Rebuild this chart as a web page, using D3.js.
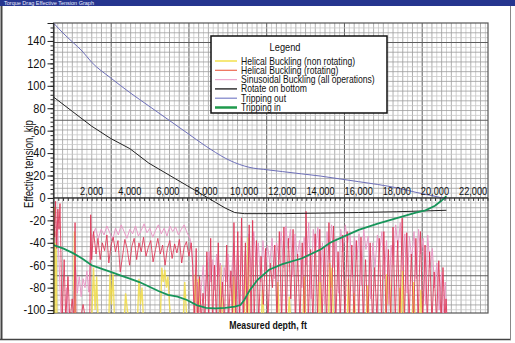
<!DOCTYPE html>
<html>
<head>
<meta charset="utf-8">
<script src="https://cdn.jsdelivr.net/npm/d3@7/dist/d3.min.js"></script>
<style>
  html, body { margin: 0; padding: 0; background: #fff; }
  svg { display: block; font-family: "Liberation Sans", Arial, Helvetica, sans-serif; }
</style>
</head>
<body>
<div id="chart"></div>
<script>
// axis ticks
const depthTicks = [2000, 4000, 6000, 8000, 10000, 12000, 14000, 16000, 18000, 20000, 22000];
const tensionTicks = [-100, -80, -60, -40, -20, 0, 20, 40, 60, 80, 100, 120, 140];

// tripping out (pick-up) tension
const outDepth = [0, 500, 1000, 1500, 2000, 3000, 4000, 5000, 6000, 7000, 8000, 8500, 9000, 9500, 10000, 10500, 11000, 12000, 13000, 14000, 15000, 16000, 17000, 18000, 19000, 20000, 20600];
const outTension = [156, 147, 139, 131, 121, 107, 94, 82, 70, 58, 46, 40.5, 35.5, 31.5, 28.5, 26.5, 25.5, 23.5, 21.5, 19.5, 17, 14.5, 12, 9, 5, 1.5, -1];

// rotate on bottom
const rotDepth = [0, 1000, 2000, 3000, 4000, 5000, 6000, 7000, 8000, 8500, 9000, 9500, 10000, 11000, 12000, 14000, 16000, 18000, 20000, 20600];
const rotTension = [90, 77, 64, 53, 44, 31, 21, 11, 1, -4, -9, -13, -14, -14, -14, -13.5, -13, -12.3, -11.3, -11];

// tripping in (slack-off)
const inDepth = [0, 500, 1000, 1500, 2000, 2500, 3000, 3500, 4000, 4500, 5000, 5500, 6000, 6500, 7000, 7500, 8000, 8500, 9000, 9500, 9800, 10000, 10300, 10700, 11300, 12000, 13000, 14000, 14500, 15000, 16000, 17000, 18000, 19000, 19500, 20000, 20300, 20600];
const inTension = [-42, -45, -49, -54, -60, -63, -66, -69, -72, -75, -79, -83, -86.5, -88, -91, -95.5, -98, -98.5, -98, -97, -95.5, -91, -82, -73, -64, -59, -54, -46, -40, -36, -28.5, -23, -18, -13, -11, -7, -3, 1.5];

// helical buckling limit, rotating  [depth ft, kip]
const helicalRot = [
  [0,-8],[60,-35],[110,-3],[170,-45],[230,-10],[290,-28],[340,-5],[400,-60],[450,-110],[560,-55],[640,-110],[760,-70],[860,-110],[980,-90],[1080,-110],[1130,-22],[1180,-110],
  [1400,-110],[1550,-95],[1700,-110],[1900,-110],[1950,-15],[2000,-55],
  [2100,-30],[2230,-50],[2330,-36],[2450,-55],[2560,-40],[2680,-47],[2800,-33],[2900,-58],[3020,-42],[3130,-35],[3250,-48],[3380,-38],[3500,-66],[3620,-52],[3740,-37],[3860,-45],[3990,-60],[4110,-43],[4230,-36],[4360,-55],[4480,-40],[4600,-48],[4720,-35],[4850,-52],[4970,-44],[5100,-38],[5220,-57],[5350,-46],[5470,-36],[5600,-50],[5720,-42],[5850,-60],[5970,-45],[6100,-38],[6220,-54],[6350,-41],[6470,-49],[6600,-37],[6720,-58],[6850,-44],[6970,-39],[7100,-52],[7220,-40],
  [7300,-60],[7380,-110],[7480,-45],[7560,-110],[7660,-70],[7740,-110],[7840,-85],[7940,-110],
  [8040,-48],[8140,-110],[8240,-36],[8340,-110],[8440,-60],[8540,-110],[8640,-40],[8740,-110],[8860,-75],[8960,-110],[9080,-42],[9180,-110],[9300,-65],[9380,-110],[9460,-22],[9560,-110],[9660,-30],[9760,-110],[9860,-18],[9960,-110],[10060,-40],[10160,-110],[10260,-24],[10360,-110],[10440,-20],
  [10520,-110],[10640,-38],[10760,-110],[10880,-52],[11000,-95],[11120,-45],[11240,-110],[11360,-58],[11480,-80],[11600,-42],[11720,-110],[11840,-30],[11960,-110],[12080,-26],[12200,-110],[12320,-36],[12440,-90],[12560,-28],[12680,-110],[12800,-50],[12920,-110],[13040,-40],[13160,-110],[13240,-12],[13360,-110],[13480,-46],[13600,-110],[13720,-32],[13840,-105],[13960,-28],[14080,-110],[14200,-44],[14320,-110],[14440,-22],[14560,-110],[14680,-25],[14800,-110],[14920,-48],[15040,-110],[15160,-33],[15280,-110],[15400,-30],[15520,-110],[15640,-42],[15760,-110],[15880,-38],[16000,-110],[16120,-35],[16240,-110],[16360,-55],[16480,-110],[16600,-40],[16720,-110],[16840,-62],[16960,-110],[17080,-36],[17200,-110],[17320,-30],[17440,-110],[17560,-46],[17680,-110],[17800,-26],[17920,-110],[18040,-38],[18160,-110],[18280,-18],[18400,-110],[18520,-31],[18640,-110],[18760,-50],[18880,-110],[19000,-36],[19120,-110],[19240,-30],[19360,-110],[19480,-42],[19600,-110],[19720,-48],[19840,-110],[19960,-66],[20080,-110],[20200,-56],[20320,-110],[20420,-62],[20520,-110],[20580,-90],[20640,-110]
];

// sinusoidal buckling limit, all operations
const sinusoidal = [
  [0,-15],[100,-40],[200,-20],[300,-60],[400,-110],[600,-110],[700,-80],[800,-110],[1000,-110],[1150,-60],[1250,-85],[1350,-70],[1450,-88],[1550,-72],[1650,-80],[1750,-65],[1850,-84],[1950,-40],
  [2050,-34],[2200,-27],[2350,-36],[2500,-28],[2650,-33],[2800,-25],[2950,-31],[3100,-38],[3250,-27],[3400,-33],[3550,-24],[3700,-30],[3850,-36],[4000,-28],[4150,-32],[4300,-25],[4450,-34],[4600,-29],[4750,-23],[4900,-31],[5050,-27],[5200,-35],[5350,-29],[5500,-24],[5650,-32],[5800,-27],[5950,-34],[6100,-25],[6250,-30],[6400,-26],[6550,-33],[6700,-28],[6850,-24],[7000,-31],[7150,-36],[7250,-45],
  [7350,-90],[7450,-110],[7550,-75],[7650,-110],[7750,-80],[7850,-60],[7950,-90],
  [8050,-62],[8150,-48],[8250,-75],[8350,-55],[8450,-82],[8550,-50],[8650,-70],[8750,-58],[8850,-88],[8950,-62],[9050,-75],[9150,-50],[9250,-80],[9350,-65],[9450,-40],[9550,-90],[9650,-45],[9750,-110],[9850,-35],[9950,-110],[10050,-48],[10150,-95],[10250,-32],
  [10380,-70],[10500,-30],[10620,-60],[10740,-40],[10860,-75],[10980,-38],[11100,-65],[11220,-42],[11340,-58],[11460,-36],[11580,-72],[11700,-40],[11820,-55],[11940,-30],[12060,-62],[12180,-25],[12300,-45],[12420,-28],[12540,-70],[12660,-32],[12780,-52],[12900,-38],[13020,-80],[13140,-35],[13260,-60],[13380,-22],[13500,-90],[13620,-28],[13740,-48],[13860,-26],[13980,-75],[14100,-40],[14220,-95],[14340,-30],[14460,-55],[14580,-24],[14700,-62],[14820,-36],[14940,-85],[15060,-28],[15180,-48],[15300,-24],[15420,-40],[15540,-30],[15660,-70],[15780,-35],[15900,-55],[16020,-32],[16140,-78],[16260,-28],[16380,-46],[16500,-34],[16620,-90],[16740,-40],[16860,-62],[16980,-33],[17100,-48],[17220,-30],[17340,-72],[17460,-38],[17580,-95],[17700,-42],[17820,-60],[17940,-24],[18060,-45],[18180,-22],[18300,-65],[18420,-32],[18540,-85],[18660,-34],[18780,-55],[18900,-30],[19020,-72],[19140,-28],[19260,-50],[19380,-36],[19500,-95],[19620,-33],[19740,-62],[19860,-45],[19980,-80],[20100,-58],[20220,-100],[20340,-66],[20440,-110],[20540,-75],[20620,-110]
];

// helical buckling limit, non rotating
const helicalNonRot = [
  [0,-110],[40,-8],[80,-110],[130,-30],[180,-110],[1050,-110],[1100,-30],[1150,-110],[2000,-110],[2100,-62],[2180,-100],[2260,-70],[2340,-110],[2900,-110],[2960,-68],[3040,-95],[3120,-66],[3200,-110],[3700,-110],[3780,-85],[3860,-98],[3950,-110],[4400,-110],[4480,-72],[4560,-95],[4640,-80],[4720,-110],[5600,-110],[5680,-62],[5760,-75],[5840,-64],[5920,-80],[6000,-70],[6080,-95],[6160,-110],[6800,-110],[6880,-75],[6960,-100],[7040,-110],[7380,-110],[7440,-68],[7520,-110],[7600,-72],[7680,-110],[8700,-110],[8780,-60],[8860,-110],[9400,-110],[9460,-70],[9540,-110],[10000,-110],[10060,-50],[10140,-110],[10200,-35],[10260,-110],[10900,-110],[10960,-82],[11040,-110],[11700,-110],[11760,-75],[11840,-110],[12300,-110],[12360,-88],[12440,-110],[13080,-110],[13140,-70],[13220,-110],[13900,-110],[13960,-60],[14040,-110],[14420,-110],[14480,-58],[14540,-80],[14600,-62],[14680,-110],[15400,-110],[15460,-72],[15540,-110],[15700,-110],[15760,-85],[15840,-110],[16400,-110],[16460,-78],[16540,-110],[17400,-110],[17460,-68],[17540,-95],[17620,-70],[17700,-110],[18100,-110],[18160,-80],[18240,-110],[18300,-60],[18380,-110],[18800,-110],[18880,-75],[18960,-110],[19200,-110],[19260,-82],[19340,-110],[20000,-110]
];

const legendItems = [
  { label: 'Helical Buckling  (non rotating)', color: '#f3e04c', width: 1.5 },
  { label: 'Helical Buckling (rotating)', color: '#ec6a52', width: 1.2 },
  { label: 'Sinusoidal Buckling (all operations)', color: '#eeaad0', width: 1.2 },
  { label: 'Rotate on bottom', color: '#333', width: 1.5 },
  { label: 'Tripping out', color: '#7a80c8', width: 1.2 },
  { label: 'Tripping in', color: '#1f9a4c', width: 2.5 },
];

const W = 515, H = 343;
const plot = { left: 53.5, top: 23, right: 488, bottom: 313 };

const x = d3.scaleLinear().domain([0, 22780]).range([plot.left, plot.right]);
const y = d3.scaleLinear().domain([-102.6, 156]).range([plot.bottom, plot.top]);

const svg = d3.select('#chart').append('svg')
    .attr('width', W)
    .attr('height', H);

// condensed text: squeeze horizontally about the anchor point
function narrowText(parent, px, py, str, size, sx, opts = {}) {
  return parent.append('text')
      .attr('transform', `translate(${px},${py})${opts.rotate ? ` rotate(${opts.rotate})` : ''} scale(${sx},1)`)
      .attr('text-anchor', opts.anchor || 'start')
      .attr('font-size', size)
      .attr('font-weight', opts.weight || 'normal')
      .attr('fill', opts.fill || '#111')
      .text(str);
}

// window chrome
svg.append('rect').attr('width', W).attr('height', H).attr('fill', '#fff');
svg.append('rect').attr('x', 0).attr('y', 0).attr('width', W).attr('height', 6).attr('fill', '#26358f');
svg.append('text')
    .attr('x', 4).attr('y', 4.8)
    .attr('font-size', 5.5)
    .attr('fill', '#e8ecff')
    .text('Torque Drag Effective Tension Graph');
svg.append('line').attr('x1', 1.5).attr('x2', 1.5).attr('y1', 6).attr('y2', 340).attr('stroke', '#444').attr('stroke-width', 2);
svg.append('line').attr('x1', 0).attr('x2', 511).attr('y1', 339.5).attr('y2', 339.5).attr('stroke', '#444').attr('stroke-width', 1.5);
svg.append('line').attr('x1', 510.5).attr('x2', 510.5).attr('y1', 6).attr('y2', 340).attr('stroke', '#888').attr('stroke-width', 1);

// graph-paper grid
const grid = svg.append('g').attr('class', 'grid');
const major = 77.75, fine = major / 16;
const gx0 = 111.2 - major;  // vertical rulings anchor
const gy0 = 198;            // horizontal rulings anchor (zero line)
const vLines = d3.range(-2 * 16, 8 * 16).map((i) => ({ p: gx0 + i * fine, k: ((i % 16) + 16) % 16 }))
    .filter((d) => d.p > plot.left + 0.5 && d.p < plot.right - 0.5);
const hLines = d3.range(-3 * 16, 3 * 16).map((i) => ({ p: gy0 + i * fine, k: ((i % 16) + 16) % 16 }))
    .filter((d) => d.p > plot.top + 0.5 && d.p < plot.bottom - 0.5);
const ruleColor = (k) => (k === 0 ? '#5e5e5e' : k % 2 === 0 ? '#9c9c9c' : '#c6c6c6');
const ruleWidth = (k) => (k === 0 ? 1 : 0.8);

grid.selectAll('.v').data(vLines).enter().append('line')
    .attr('x1', (d) => d.p).attr('x2', (d) => d.p)
    .attr('y1', plot.top).attr('y2', plot.bottom)
    .attr('stroke', (d) => ruleColor(d.k))
    .attr('stroke-width', (d) => ruleWidth(d.k));
grid.selectAll('.h').data(hLines).enter().append('line')
    .attr('y1', (d) => d.p).attr('y2', (d) => d.p)
    .attr('x1', plot.left).attr('x2', plot.right)
    .attr('stroke', (d) => ruleColor(d.k))
    .attr('stroke-width', (d) => ruleWidth(d.k));

svg.append('rect')
    .attr('x', plot.left).attr('y', plot.top)
    .attr('width', plot.right - plot.left).attr('height', plot.bottom - plot.top)
    .attr('fill', 'none').attr('stroke', '#555').attr('stroke-width', 1.2);

// curves
svg.append('clipPath').attr('id', 'plot-clip').append('rect')
    .attr('x', plot.left).attr('y', plot.top)
    .attr('width', plot.right - plot.left).attr('height', plot.bottom - plot.top);

const series = svg.append('g').attr('clip-path', 'url(#plot-clip)');
const line = d3.line().x((d) => x(d[0])).y((d) => y(d[1]));
const zip = (a, b) => a.map((v, i) => [v, b[i]]);

series.append('path').datum(helicalNonRot)
    .attr('d', line).attr('fill', 'none')
    .attr('stroke', '#f1dc48').attr('stroke-width', 1.4).attr('stroke-opacity', 0.85);
series.append('path').datum(sinusoidal)
    .attr('d', line).attr('fill', 'none')
    .attr('stroke', '#e89ac6').attr('stroke-width', 1);
series.append('path').datum(helicalRot)
    .attr('d', line).attr('fill', 'none')
    .attr('stroke', '#de3454').attr('stroke-width', 1).attr('stroke-opacity', 0.85);

series.append('path').datum(zip(rotDepth, rotTension))
    .attr('d', line).attr('fill', 'none')
    .attr('stroke', '#222').attr('stroke-width', 1);
series.append('path').datum(zip(outDepth, outTension))
    .attr('d', d3.line().curve(d3.curveMonotoneX).x((d) => x(d[0])).y((d) => y(d[1])))
    .attr('fill', 'none')
    .attr('stroke', '#6d6fb8').attr('stroke-width', 1);
series.append('path').datum(zip(inDepth, inTension))
    .attr('d', line).attr('fill', 'none')
    .attr('stroke', '#17955a').attr('stroke-width', 1.8);

// y axis
const yAxis = svg.append('g').attr('transform', `translate(${plot.left},0)`);
yAxis.call(d3.axisLeft(y).tickValues(d3.range(-100, 157, 4)).tickSize(3).tickFormat(''))
    .call((g) => g.select('.domain').remove());
yAxis.append('g')
    .call(d3.axisLeft(y).tickValues(tensionTicks).tickSize(6).tickFormat(''))
    .call((g) => g.select('.domain').attr('stroke', '#222'));
yAxis.selectAll('line').attr('stroke', '#222');
tensionTicks.forEach((t) => narrowText(yAxis, -8, y(t) + 4.4, String(t), 12.5, 0.88, { anchor: 'end' }));

// x axis along the zero line, labels sit above it
const xAxis = svg.append('g').attr('transform', `translate(0,${y(0)})`);
xAxis.call(d3.axisBottom(x).tickValues(d3.range(250, 22780, 250)).tickSize(3).tickFormat(''))
    .call((g) => g.select('.domain').attr('stroke', '#222').attr('d', `M${plot.left},0H${plot.right}`));
xAxis.selectAll('line').attr('stroke', '#333');
depthTicks.forEach((t) => narrowText(xAxis, x(t), -3, d3.format(',')(t), 11, 0.84, { anchor: 'middle' }));

// axis titles
narrowText(svg, 33, 164, 'Effective tension, kip', 12, 0.8, { anchor: 'middle', rotate: -90 });
narrowText(svg, 268, 329, 'Measured depth, ft', 11.5, 0.76, { anchor: 'middle', weight: 'bold' });

// legend
const lg = svg.append('g').attr('transform', 'translate(211,36)');
lg.append('rect').attr('width', 176).attr('height', 77)
    .attr('fill', '#fff').attr('stroke', '#111').attr('stroke-width', 1.5);
narrowText(lg, 74, 15, 'Legend', 10.5, 0.88, { anchor: 'middle' });
const rows = lg.selectAll('.row').data(legendItems).enter().append('g')
    .attr('transform', (d, i) => `translate(0,${25 + i * 9.3})`);
rows.append('line').attr('x1', 4).attr('x2', 26)
    .attr('stroke', (d) => d.color).attr('stroke-width', (d) => d.width);
rows.each(function (d) { narrowText(d3.select(this), 30, 3.5, d.label, 10, 0.86); });
</script>
</body>
</html>
